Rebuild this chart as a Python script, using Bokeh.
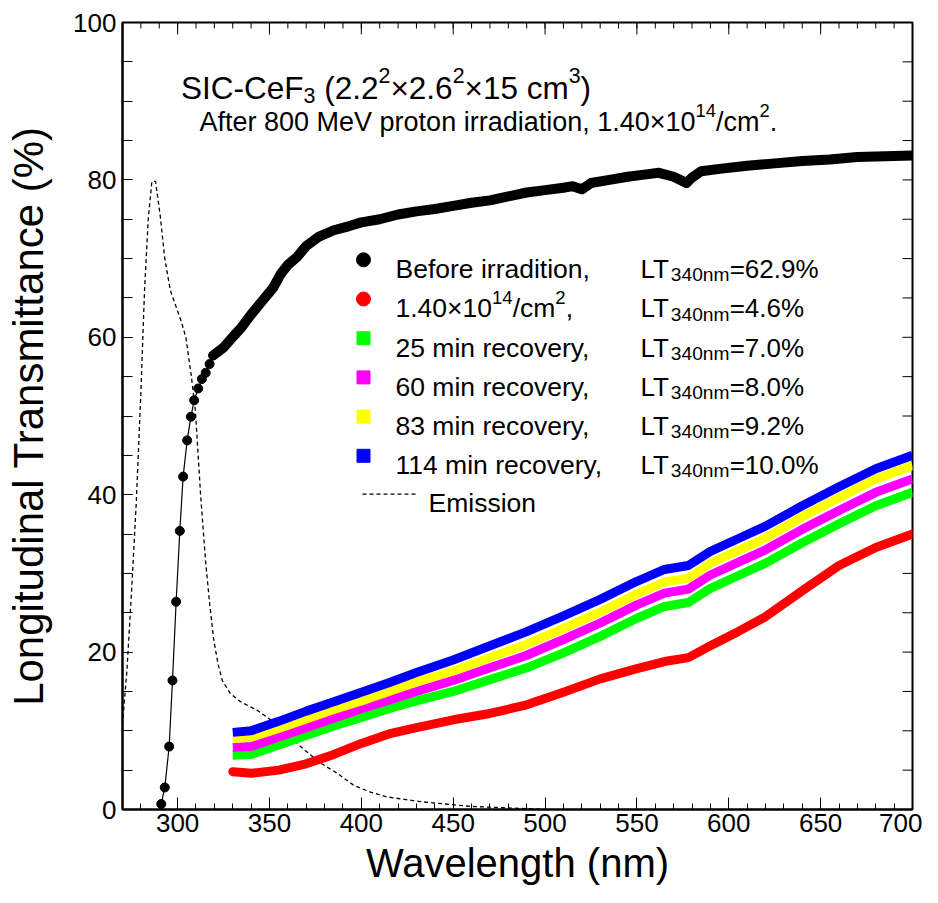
import numpy as np
from bokeh.plotting import figure
from bokeh.models import Label, SingleIntervalTicker, Range1d
from bokeh.embed import file_html
from bokeh.resources import INLINE

# ---------------- data ----------------
wl_before_pts = [291.1, 293.0, 295.4, 297.2, 299.2, 301.2, 303.0, 305.2, 307.2,
                 309.0, 311.2, 313.2, 315.3, 317.4, 319.4]
lt_before_pts = [0.7, 2.8, 8.0, 16.4, 26.4, 35.4, 42.3, 46.9, 49.9,
                 52.0, 53.5, 54.7, 55.5, 56.6, 57.7]
wl_before_band = [319.4, 325, 330.6, 334.2, 340, 346, 352, 356, 360, 365, 370, 377, 385,
                  393, 400, 410, 420, 430, 440, 450, 460, 470, 480, 490, 500, 510, 515,
                  520, 525, 535, 545, 555, 562, 570, 577, 580, 585, 595, 610, 625, 640,
                  655, 670, 685, 700]
lt_before_band = [57.7, 58.7, 60.2, 61.1, 62.9, 64.6, 66.3, 68.0, 69.2, 70.2, 71.6, 72.8, 73.6,
                  74.1, 74.6, 75.0, 75.6, 76.0, 76.3, 76.7, 77.1, 77.4, 77.9, 78.4, 78.7, 79.0, 79.2,
                  78.8, 79.6, 80.0, 80.4, 80.7, 80.9, 80.4, 79.6, 80.3, 81.1, 81.4, 81.8, 82.1, 82.4,
                  82.6, 82.9, 83.0, 83.1]

wl_irr = [330, 340, 355, 370, 385, 400, 415, 430, 450, 470, 490, 510, 530, 550, 565,
          578, 590, 605, 620, 640, 660, 680, 700]
lt_irr = [4.8, 4.6, 5.0, 5.8, 7.0, 8.4, 9.6, 10.4, 11.4, 12.2, 13.3, 14.9, 16.6, 17.9, 18.8,
          19.3, 20.8, 22.6, 24.5, 27.8, 31.0, 33.3, 35.0]
lt_25min = [6.9, 7.0, 8.2, 9.4, 10.6, 11.7, 12.8, 13.8, 15.0, 16.5, 18.0, 19.9, 22.0, 24.3, 25.8,
            26.3, 28.1, 29.7, 31.3, 33.9, 36.3, 38.6, 40.3]
lt_60min = [7.9, 8.0, 9.2, 10.4, 11.6, 12.8, 13.9, 15.0, 16.4, 18.0, 19.6, 21.6, 23.7, 26.0, 27.5,
            28.0, 29.8, 31.4, 33.0, 35.6, 38.0, 40.3, 42.0]
lt_83min = [9.0, 9.2, 10.3, 11.5, 12.7, 13.8, 15.0, 16.2, 17.6, 19.3, 21.0, 23.0, 25.1, 27.4, 28.9,
            29.4, 31.3, 32.9, 34.5, 37.2, 39.6, 42.0, 43.7]
lt_114min = [9.8, 10.0, 11.2, 12.5, 13.7, 14.9, 16.1, 17.4, 19.0, 20.8, 22.6, 24.6, 26.7, 29.0, 30.5,
             31.0, 32.8, 34.4, 36.0, 38.6, 41.0, 43.3, 45.0]

wl_emis = [270, 272.5, 275, 277.5, 280, 282, 284, 286, 288, 290.5, 293, 296, 299, 302, 304.5,
           306, 307.5, 309.7, 312.5, 315.2, 317.5, 319.7, 322, 324.3, 328.8, 334.2, 343.3, 356,
           366.9, 377.8, 386.9, 395.7, 405, 414, 432, 459, 486, 500]
em_emis = [10.8, 18, 28, 39, 53, 66, 75, 79.8, 79.8, 75.5, 70, 66, 64, 62, 60,
           57.5, 55, 50.6, 40, 31.6, 26, 21.5, 18.5, 16.4, 14.7, 13.7, 12.6, 10.5,
           8.0, 5.9, 4.6, 3.1, 2.2, 1.6, 1.0, 0.4, 0.15, 0.0]

series_colors = ["#ff0000", "#00ff00", "#ff00ff", "#ffff00", "#0000ff"]
lt340_values = ["62.9%", "4.6%", "7.0%", "8.0%", "9.2%", "10.0%"]

# ---------------- figure ----------------
W, H = 922, 887
L, R, T, B = 122, 10, 22, 76
FONT = "Liberation Sans"
X0, X1, Y0, Y1 = 270, 700, 0, 100

p = figure(width=W, height=H, x_range=Range1d(X0, X1), y_range=Range1d(Y0, Y1),
           output_backend="svg", toolbar_location=None,
           min_border_left=L, min_border_right=R, min_border_top=T, min_border_bottom=B)
p.xgrid.visible = False
p.ygrid.visible = False
p.outline_line_color = "black"
p.outline_line_width = 2
p.background_fill_color = "white"

PXN = (W - L - R) / (X1 - X0)      # px per nm
PXV = (H - T - B) / (Y1 - Y0)      # px per %


def nx(px):   # reference picture x -> data
    return X0 + (px - 122) / 1.8372


def vy(py):   # reference picture y -> data
    return (813 - py) / 7.91


bottom = p.below[0]
left = p.left[0]
bottom.ticker = SingleIntervalTicker(interval=50, num_minor_ticks=5)
left.ticker = SingleIntervalTicker(interval=20, num_minor_ticks=4)

bottom.major_tick_in = 12
bottom.major_tick_out = 0
bottom.minor_tick_in = 6
bottom.minor_tick_out = 0
left.major_tick_in = 10
left.major_tick_out = 0
left.minor_tick_in = 10
left.minor_tick_out = 0
for ax in [bottom, left]:
    ax.axis_line_width = 2
    ax.axis_line_color = "black"
    ax.major_tick_line_color = "black"
    ax.minor_tick_line_color = "black"
    ax.major_label_text_font = FONT
    ax.major_label_text_font_size = "26px"
    ax.major_label_text_color = "black"
    ax.axis_label_text_font = FONT
    ax.axis_label_text_font_style = "normal"
    ax.axis_label_text_color = "black"
bottom.major_label_standoff = 4
left.major_label_standoff = 6
bottom.axis_label = "Wavelength (nm)"
bottom.axis_label_text_font_size = "40px"
bottom.axis_label_standoff = 6
left.axis_label = "Longitudinal Transmittance (%)"
left.axis_label_text_font_size = "42px"
left.axis_label_standoff = 18

# ticks on the top and right frame edges
xt_major = np.arange(300, 701, 50)
xt_minor = np.arange(270, 701, 10)
yt_all = np.arange(0, 101, 5)
p.segment(x0=xt_minor, y0=[Y1] * len(xt_minor), x1=xt_minor,
          y1=[Y1 - 6 / PXV] * len(xt_minor), line_color="black", line_width=1)
p.segment(x0=xt_major, y0=[Y1] * len(xt_major), x1=xt_major,
          y1=[Y1 - 12 / PXV] * len(xt_major), line_color="black", line_width=1)
p.segment(x0=[X1] * len(yt_all), y0=yt_all, x1=[X1 - 10 / PXN] * len(yt_all), y1=yt_all,
          line_color="black", line_width=1)

# ---------------- curves ----------------
p.line(wl_emis, em_emis, line_color="black", line_width=1.3, line_dash="4 3")

p.line(wl_before_pts, lt_before_pts, line_color="black", line_width=1.2)
p.scatter(wl_before_pts, lt_before_pts, marker="circle", size=9, fill_color="black",
          line_color="black")
p.line(wl_before_band, lt_before_band, line_color="black", line_width=10, line_cap="round",
       line_join="round")

colored = [lt_irr, lt_25min, lt_60min, lt_83min, lt_114min]
for i, (ys, c) in enumerate(zip(colored, series_colors)):
    p.line(wl_irr, ys, line_color=c, line_width=9,
           line_cap="round" if i == 0 else "butt", line_join="round")


# ---------------- texts ----------------
AW = {' ': 278, '\u00a0': 278, '(': 333, ')': 333, '.': 278, ',': 278, '-': 333, '/': 278,
      '=': 584, '%': 889, '×': 584, 'A': 667, 'B': 667, 'C': 722, 'E': 667, 'F': 611,
      'I': 278, 'L': 556, 'M': 833, 'S': 667, 'T': 611, 'V': 667, 'W': 944,
      'a': 556, 'b': 556, 'c': 500, 'd': 556, 'e': 556, 'f': 278, 'g': 556, 'h': 556,
      'i': 222, 'l': 222, 'm': 833, 'n': 556, 'o': 556, 'p': 556, 'r': 333, 's': 500,
      't': 278, 'u': 556, 'v': 500, 'y': 500}


def tw(s, size):
    return sum(AW.get(ch, 556) for ch in s) * size / 1000.0


def rich(segs, x_page, y_page, size, small=0.7):
    x = nx(x_page)
    for txt, kind in segs:
        if kind == "n":
            fs, dy = size, 0
        elif kind == "sup":
            fs, dy = size * small, -0.42 * size
        else:
            fs, dy = size * small, 0.22 * size
        p.add_layout(Label(x=x, y=vy(y_page + dy), text=txt, text_font=FONT,
                           text_font_size=f"{fs:.1f}px", text_color="black",
                           text_align="left", text_baseline="alphabetic"))
        x += tw(txt, fs) / PXN


NB = "\u00a0"
# title lines
rich([("SIC-CeF", "n"), ("3", "sub"), (NB + "(2.2", "n"), ("2", "sup"), ("×2.6", "n"),
      ("2", "sup"), ("×15" + NB + "cm", "n"), ("3", "sup"), (")", "n")], 180.6, 88, 31.5,
     small=0.68)
rich([("After 800 MeV proton irradiation, 1.40×10", "n"), ("14", "sup"), ("/cm", "n"),
      ("2", "sup"), (".", "n")], 199, 122, 27, small=0.68)

# legend
row_base = [270, 309.4, 348.8, 388.2, 427.6, 467]
mk_x = 363
labels = [[("Before irradition,", "n")],
          [("1.40×10", "n"), ("14", "sup"), ("/cm", "n"), ("2", "sup"), (",", "n")],
          [("25 min recovery,", "n")],
          [("60 min recovery,", "n")],
          [("83 min recovery,", "n")],
          [("114 min recovery,", "n")]]
mk_colors = ["black"] + series_colors
mk_types = ["circle", "circle", "square", "square", "square", "square"]
for i in range(6):
    cy = row_base[i] - 9.5
    p.scatter([nx(mk_x)], [vy(cy)], marker=mk_types[i], size=14 if i < 2 else 13,
              fill_color=mk_colors[i], line_color=mk_colors[i])
    rich(labels[i], 395, row_base[i], 26.5, small=0.7)
    rich([("LT", "n"), ("340nm", "sub"), ("=" + lt340_values[i], "n")], 640, row_base[i], 26,
         small=0.74)

p.line([nx(362), nx(418)], [vy(496), vy(496)], line_color="black", line_width=1.3,
       line_dash="4 3")
p.add_layout(Label(x=nx(428), y=vy(505), text="Emission", text_font=FONT, text_color="black",
                   text_font_size="26.5px", text_align="left", text_baseline="alphabetic"))

open("out.html", "w").write(file_html(p, INLINE))
